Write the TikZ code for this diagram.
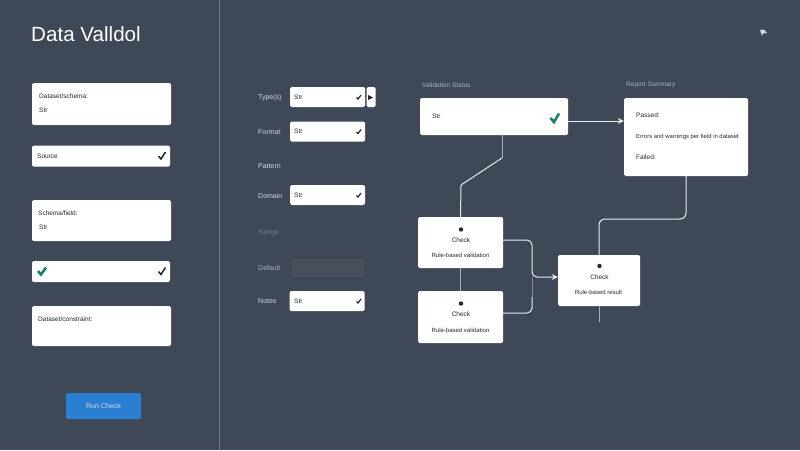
\documentclass[tikz,border=0pt]{standalone}
\usepackage{fontspec}
\setmainfont{Liberation Sans}
\usetikzlibrary{arrows.meta}
\definecolor{bgc}{HTML}{3F4856}
\definecolor{divc}{HTML}{6F7B8A}
\definecolor{linec}{HTML}{E8ECEF}
\definecolor{fadec}{HTML}{A9B2BC}
\definecolor{labelc}{HTML}{D3D8DE}
\definecolor{inkc}{HTML}{23282F}
\definecolor{tealc}{HTML}{17806F}
\definecolor{bluec}{HTML}{2B7FD3}
\tikzset{
  x=1pt,y=-1pt,
  card/.style={fill=white,rounded corners=1.5pt,inner sep=0pt,draw=none},
  ink/.style={text=inkc,font=\fontsize{6.5}{7}\selectfont,inner sep=0pt},
  lab/.style={text=labelc,font=\fontsize{7}{8}\selectfont,inner sep=0pt,anchor=west},
  conn/.style={draw=linec,line width=1pt,rounded corners=4pt},
  faint/.style={draw=fadec,line width=0.9pt,rounded corners=4pt},
  tip/.style={-{Stealth[length=6pt,width=6pt]}},
  chk/.style={draw=inkc,line width=1.5pt},
  tchk/.style={draw=tealc,line width=2.6pt},
}
\begin{document}
\begin{tikzpicture}
\useasboundingbox (0,0) rectangle (800,450);
\fill[bgc] (0,0) rectangle (800,450);
\draw[divc,line width=1.2pt] (219.5,0) -- (219.5,450);

% title
\node[text=white,font=\fontsize{20.6}{24}\selectfont,inner sep=0pt,anchor=west] (title) at (31,34.5) {Data Valldol};

% left column
\node[card,minimum width=139pt,minimum height=42pt] (la) at (101.5,104) {};
\node[card,minimum width=138pt,minimum height=21pt] (lb) at (101,156) {};
\node[card,minimum width=139pt,minimum height=41pt] (lc) at (101.5,220.5) {};
\node[card,minimum width=138pt,minimum height=21pt] (ld) at (101,271.5) {};
\node[card,minimum width=139pt,minimum height=40pt] (le) at (101.5,326) {};
\node[fill=bluec,rounded corners=1.5pt,inner sep=0pt,minimum width=75pt,minimum height=26pt,text=labelc,font=\fontsize{7}{8}\selectfont] (btn) at (103.5,406) {Run Check};

\node[ink,anchor=west] (la1) at (39,96) {Dataset/schema:};
\node[ink,anchor=west] (la2) at (39,110) {Str};
\node[ink,anchor=west] (lb1) at (37,156) {Source};
\node[ink,anchor=west] (lc1) at (38,213) {Schema/field:};
\node[ink,anchor=west] (lc2) at (39,227) {Str};
\node[ink,anchor=west] (le1) at (38,319) {Dataset/constraint:};

\draw[chk] (158.5,156) -- (161,159) -- (165.5,152);
\draw[chk] (158.5,271.5) -- (161,274.5) -- (165.5,267.5);
\draw[tchk] (38,271) -- (41,274.5) -- (46,267.5);

% middle column
\node[lab] (m1) at (258,98) {Type(s)};
\node[lab] (m2) at (258,132) {Format};
\node[lab] (m3) at (258,166.5) {Pattern};
\node[lab] (m4) at (258,196) {Domain};
\node[lab,text=divc] (m5) at (258,233) {Range};
\node[lab,text=fadec] (m6) at (258,267.5) {Default};
\node[lab] (m7) at (258,301) {Notes};

\fill[bgc!96!white] (292,259) rectangle (364,277);
\node[card,minimum width=75pt,minimum height=20pt] (f1) at (327.5,97) {};
\node[card,minimum width=9pt,minimum height=20pt] (f1b) at (371,97) {};
\node[card,minimum width=75pt,minimum height=20pt] (f2) at (327.5,131.5) {};
\node[card,minimum width=75pt,minimum height=20pt] (f3) at (327.5,195) {};
\node[card,minimum width=75pt,minimum height=20pt] (f4) at (327,301) {};
\foreach \n/\y in {f1/97,f2/131.5,f3/195,f4/301}{
  \node[ink,anchor=west] (\n t) at (294,\y) {Str};
  \draw[chk,line width=1.2pt] (356.5,\y+0.5) -- (358,\y+2) -- (361,\y-2);
}
\fill[inkc] (368,95) -- (373,97.5) -- (368,100) -- cycle;

% diagram boxes
\node[lab,text=fadec,font=\fontsize{6.5}{8}\selectfont] (t1) at (422,85) {Validation Status};
\node[lab,text=fadec,font=\fontsize{6.5}{8}\selectfont] (t2) at (626,85) {Report Summary};
\node[card,minimum width=148pt,minimum height=37pt] (b1) at (494,116.5) {};
\node[card,minimum width=124pt,minimum height=78pt] (b2) at (686,137) {};
\node[card,minimum width=85pt,minimum height=51pt] (b3) at (460.5,242.5) {};
\node[card,minimum width=85pt,minimum height=52pt] (b4) at (460.5,317) {};
\node[card,minimum width=82pt,minimum height=51pt] (b5) at (599,280.5) {};

\node[ink,anchor=west] (b1t) at (432,116) {Str};
\draw[tchk] (550.5,118) -- (554,122) -- (559,113.5);
\node[ink,anchor=west] (b2a) at (636,115.5) {Passed:};
\node[ink,anchor=west,font=\fontsize{5.9}{7}\selectfont] (b2b) at (636,136.5) {Errors and warnings per field in dataset};
\node[ink,anchor=west] (b2c) at (636,157.5) {Failed:};

\fill[inkc] (461,229.5) circle (2.2pt);
\node[ink] (b3a) at (461,240.5) {Check};
\node[ink,font=\fontsize{6}{7}\selectfont] (b3b) at (460.5,255.5) {Rule-based validation};
\fill[inkc] (461,303.5) circle (2.2pt);
\node[ink] (b4a) at (461,314) {Check};
\node[ink,font=\fontsize{6}{7}\selectfont] (b4b) at (460.5,330) {Rule-based validation};
\fill[inkc] (599.5,266) circle (2.2pt);
\node[ink] (b5a) at (599.5,277.5) {Check};
\node[ink,font=\fontsize{6}{7}\selectfont] (b5b) at (598.5,292.5) {Rule-based result};

% connectors
\coordinate (a1) at (502,158);
\coordinate (a2) at (461,185);
\coordinate (c1) at (532,240);
\coordinate (c2) at (532,277);
\coordinate (c3) at (532,313);
\coordinate (d1) at (686,219);
\coordinate (d2) at (599,219);
\coordinate (e1) at (599,322);

\draw[fadec,line width=0.9pt] (b1.south -| a1) -- (a1);
\draw[conn,rounded corners=1pt] (a1) -- (a2) -- (b3.north);
\draw[faint] (b3.south) -- (b4.north);
\draw[conn,tip] (b1.east |- 0,121) -- (b2.west |- 0,121);
\draw[conn,tip,rounded corners=5pt] (b3.east |- c1) -- (c1) -- (c2) -- (b5.west |- c2);
\draw[conn,rounded corners=5pt] (b4.east |- c3) -- (c3) -- (532,297);
\draw[fadec!60!bgc,line width=0.8pt] (532,297) -- (c2);
\draw[conn,rounded corners=6pt] (b2.south) -- (d1) -- (d2) -- (b5.north);
\draw[faint] (b5.south) -- (e1);

% top-right glyph
\fill[labelc] (760,30) -- (764,29.5) -- (767,33) -- (763,33.5) -- (762,36) -- cycle;
\end{tikzpicture}
\end{document}
